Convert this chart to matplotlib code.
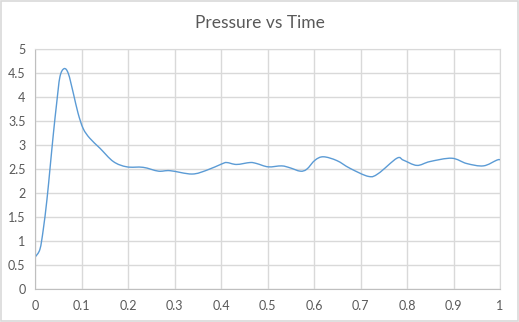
import numpy as np
import matplotlib
matplotlib.use("Agg")
import matplotlib.pyplot as plt
from matplotlib.path import Path
from matplotlib.patches import PathPatch, Rectangle

# time (s) and pressure readings
time = [0.0, 0.01, 0.017, 0.025, 0.032, 0.039, 0.046, 0.053, 0.062, 0.071,
        0.082, 0.092, 0.103, 0.117, 0.139, 0.168, 0.197, 0.232, 0.265, 0.29,
        0.337, 0.369, 0.401, 0.412, 0.433, 0.462, 0.476, 0.501, 0.53, 0.548,
        0.57, 0.584, 0.602, 0.62, 0.649, 0.677, 0.717, 0.738, 0.778, 0.792,
        0.821, 0.849, 0.896, 0.928, 0.964, 0.993, 1.0]
pressure = [0.67, 0.83, 1.23, 1.86, 2.55, 3.25, 3.88, 4.43, 4.60, 4.50,
            4.08, 3.67, 3.35, 3.15, 2.94, 2.66, 2.55, 2.54, 2.46, 2.47,
            2.40, 2.48, 2.61, 2.64, 2.60, 2.64, 2.62, 2.55, 2.57, 2.53,
            2.46, 2.50, 2.69, 2.76, 2.68, 2.52, 2.35, 2.41, 2.73, 2.69,
            2.58, 2.66, 2.73, 2.62, 2.57, 2.69, 2.70]

x_ticks = [0, 0.1, 0.2, 0.3, 0.4, 0.5, 0.6, 0.7, 0.8, 0.9, 1]
x_labels = ["0", "0.1", "0.2", "0.3", "0.4", "0.5", "0.6", "0.7", "0.8", "0.9", "1"]
y_ticks = [0, 0.5, 1, 1.5, 2, 2.5, 3, 3.5, 4, 4.5, 5]
y_labels = ["0", "0.5", "1", "1.5", "2", "2.5", "3", "3.5", "4", "4.5", "5"]

text_col = "#595959"
grid_col = "#d9d9d9"
line_col = "#5b9bd5"

plt.rcParams['font.family'] = ['Lato', 'DejaVu Sans']


def smooth_path(xs, ys, tension=1.0 / 6):
    # Catmull-Rom style bezier through every reading (smoothed line)
    pts = np.column_stack([xs, ys])
    verts = [pts[0]]
    codes = [Path.MOVETO]
    n = len(pts)
    for i in range(n - 1):
        p0 = pts[max(i - 1, 0)]
        p1 = pts[i]
        p2 = pts[i + 1]
        p3 = pts[min(i + 2, n - 1)]
        c1 = p1 + (p2 - p0) * tension
        c2 = p2 - (p3 - p1) * tension
        verts += [c1, c2, p2]
        codes += [Path.CURVE4] * 3
    return Path(verts, codes)


fig = plt.figure(figsize=(5.19, 3.22), dpi=100)
fig.patches.append(Rectangle((0.001, 0.002), 0.997, 0.995, transform=fig.transFigure,
                             fill=False, edgecolor=grid_col, linewidth=1.2))

ax = fig.add_axes([0.068, 0.1025, 0.8955, 0.7438])
ax.add_patch(PathPatch(smooth_path(time, pressure), facecolor='none',
                       edgecolor=line_col, linewidth=1.0))

ax.set_xlim(0, 1)
ax.set_ylim(0, 5)
ax.set_xticks(x_ticks)
ax.set_xticklabels(x_labels)
ax.set_yticks(y_ticks)
ax.set_yticklabels(y_labels)
ax.grid(True, color=grid_col, linewidth=1.0)
ax.set_axisbelow(True)
ax.tick_params(length=0, labelsize=9, labelcolor=text_col)
ax.tick_params(axis='x', pad=8)
ax.tick_params(axis='y', pad=7)
for side in ['left', 'bottom']:
    ax.spines[side].set_color('#bfbfbf')
for side in ['top', 'right']:
    ax.spines[side].set_color(grid_col)

fig.text(0.5, 0.93, "Pressure vs Time", ha='center', va='center',
         fontsize=12.5, color=text_col)

fig.savefig("out.png", dpi=100)
